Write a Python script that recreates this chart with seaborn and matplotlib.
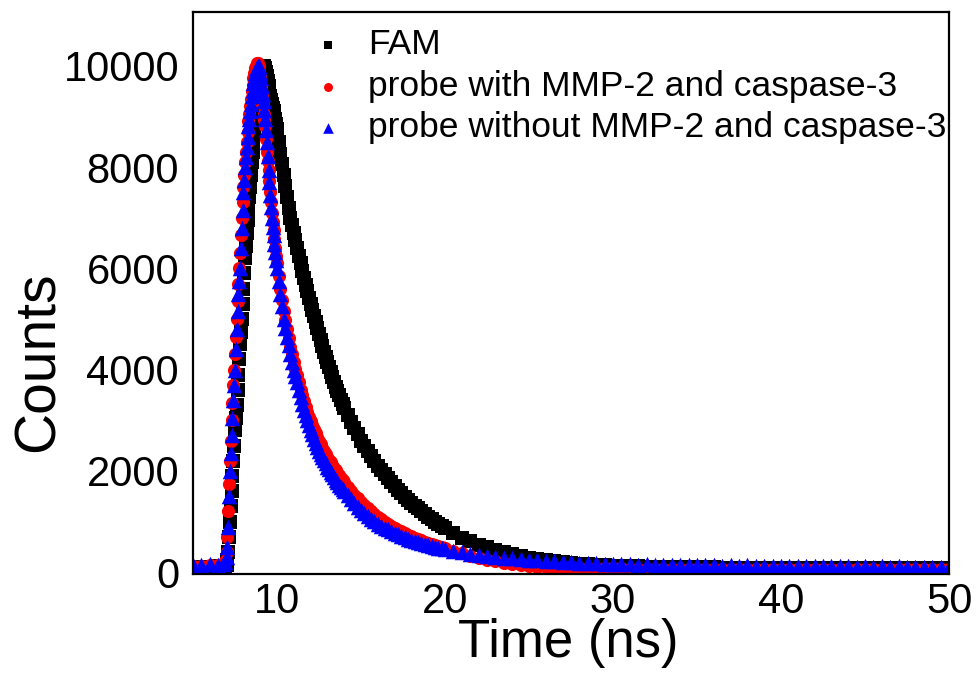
import matplotlib
matplotlib.use("Agg")
import matplotlib.pyplot as plt
from matplotlib.ticker import MultipleLocator
import pandas as pd
import seaborn as sns

# time channels (ns), shared by all three decays
time_ns = [5.0, 5.5, 6.0, 6.5, 6.8, 6.9,
           7.0, 7.05, 7.1, 7.15, 7.2, 7.25, 7.3, 7.35, 7.4, 7.45,
           7.5, 7.55, 7.6, 7.65, 7.7, 7.75, 7.8, 7.85, 7.9, 7.95,
           8.0, 8.05, 8.1, 8.15, 8.2, 8.25, 8.3, 8.35, 8.4, 8.45,
           8.5, 8.55, 8.6, 8.65, 8.7, 8.75, 8.8, 8.85, 8.9, 8.95,
           9.0, 9.05, 9.1, 9.15, 9.2, 9.25, 9.3, 9.35, 9.4, 9.45,
           9.5, 9.55, 9.6, 9.65, 9.7, 9.75, 9.8, 9.85, 9.9, 9.95,
           10.0, 10.1, 10.2, 10.3, 10.4, 10.5, 10.6, 10.7, 10.8, 10.9,
           11.0, 11.1, 11.2, 11.3, 11.4, 11.5, 11.6, 11.7, 11.8, 11.9,
           12.0, 12.1, 12.2, 12.3, 12.4, 12.5, 12.6, 12.7, 12.8, 12.9,
           13.0, 13.1, 13.2, 13.3, 13.4, 13.5, 13.6, 13.7, 13.8, 13.9,
           14.0, 14.2, 14.4, 14.6, 14.8, 15.0, 15.2, 15.4, 15.6, 15.8,
           16.0, 16.2, 16.4, 16.6, 16.8, 17.0, 17.2, 17.4, 17.6, 17.8,
           18.0, 18.2, 18.4, 18.6, 18.8, 19.0, 19.2, 19.4, 19.6, 19.8,
           20.0, 20.5, 21.0, 21.5, 22.0, 22.5, 23.0, 23.5, 24.0, 24.5,
           25.0, 25.5, 26.0, 26.5, 27.0, 27.5, 28.0, 28.5, 29.0, 29.5,
           30.0, 30.5, 31.0, 31.5, 32.0, 32.5, 33.0, 33.5, 34.0, 34.5,
           35.0, 35.5, 36.0, 36.5, 37.0, 37.5, 38.0, 38.5, 39.0, 39.5,
           40.0, 40.5, 41.0, 41.5, 42.0, 42.5, 43.0, 43.5, 44.0, 44.5,
           45.0, 45.5, 46.0, 46.5, 47.0, 47.5, 48.0, 48.5, 49.0, 49.5,
           50.0]

fam = [100, 110, 100, 120, 120, 130,
       150, 250, 400, 700, 1000, 1300, 1600, 1900, 2200, 2500,
       2800, 3050, 3300, 3600, 3900, 4200, 4500, 4750, 5000, 5300,
       5600, 5900, 6200, 6450, 6700, 6950, 7200, 7400, 7600, 7850,
       8100, 8300, 8500, 8700, 8900, 9050, 9200, 9350, 9500, 9630,
       9750, 9830, 9900, 9960, 10000, 9990, 9950, 9880, 9800, 9700,
       9600, 9500, 9400, 9320, 9250, 9170, 9100, 9020, 8950, 8850,
       8750, 8500, 8250, 8050, 7850, 7620, 7400, 7200, 7000, 6850,
       6700, 6550, 6400, 6250, 6100, 5950, 5800, 5680, 5550, 5420,
       5300, 5180, 5060, 4940, 4820, 4700, 4580, 4460, 4350, 4250,
       4150, 4050, 3950, 3850, 3750, 3650, 3570, 3490, 3410, 3330,
       3250, 3110, 2970, 2840, 2720, 2600, 2500, 2390, 2290, 2190,
       2100, 2020, 1940, 1860, 1780, 1700, 1630, 1560, 1490, 1430,
       1370, 1315, 1260, 1205, 1150, 1100, 1050, 1000, 955, 915,
       875, 780, 680, 610, 545, 490, 440, 395, 355, 320,
       290, 262, 240, 218, 200, 185, 170, 158, 148, 138,
       130, 124, 118, 114, 110, 106, 104, 102, 100, 98,
       96, 95, 94, 92, 92, 90, 90, 88, 88, 87,
       86, 86, 85, 84, 84, 83, 83, 82, 82, 81,
       81, 80, 80, 80, 79, 79, 78, 78, 78, 77,
       77]

probe_with = [120, 130, 140, 150, 160, 220,
              400, 700, 1200, 1750, 2200, 2600, 3000, 3350, 3700, 4000,
              4300, 4650, 5000, 5350, 5700, 6000, 6300, 6650, 7000, 7300,
              7600, 7850, 8100, 8300, 8500, 8700, 8900, 9050, 9200, 9350,
              9500, 9620, 9750, 9850, 9950, 10000, 10050, 10050, 10000, 9900,
              9800, 9600, 9400, 9220, 9050, 8930, 8800, 8550, 8300, 8120,
              7950, 7720, 7500, 7300, 7100, 6920, 6750, 6570, 6400, 6250,
              6100, 5850, 5600, 5370, 5150, 4970, 4800, 4620, 4450, 4300,
              4150, 4020, 3900, 3750, 3600, 3490, 3380, 3270, 3170, 3070,
              2980, 2900, 2820, 2740, 2670, 2600, 2530, 2460, 2400, 2340,
              2280, 2220, 2170, 2110, 2060, 2010, 1960, 1910, 1870, 1820,
              1780, 1690, 1610, 1530, 1460, 1390, 1325, 1265, 1205, 1150,
              1095, 1045, 1000, 955, 915, 875, 840, 805, 770, 740,
              710, 680, 655, 630, 605, 580, 558, 536, 515, 495,
              475, 420, 375, 330, 290, 250, 215, 185, 160, 140,
              125, 112, 100, 92, 86, 82, 80, 78, 76, 75,
              75, 74, 73, 72, 72, 71, 70, 70, 69, 69,
              68, 68, 67, 67, 66, 66, 66, 65, 65, 65,
              64, 64, 64, 63, 63, 63, 62, 62, 62, 62,
              61, 61, 61, 61, 60, 60, 60, 60, 60, 60,
              60]

probe_without = [150, 140, 160, 150, 170, 200,
                 300, 500, 900, 1500, 2000, 2350, 2700, 3050, 3400, 3700,
                 4000, 4400, 4800, 5150, 5500, 5750, 6000, 6400, 6800, 7150,
                 7500, 7750, 8000, 8200, 8400, 8600, 8800, 8950, 9100, 9250,
                 9400, 9530, 9650, 9750, 9850, 9920, 9980, 10000, 10000, 9950,
                 9850, 9750, 9600, 9450, 9300, 9130, 8950, 8730, 8500, 8220,
                 7950, 7700, 7450, 7220, 7000, 6820, 6650, 6480, 6320, 6160,
                 6000, 5750, 5500, 5250, 5000, 4820, 4650, 4480, 4300, 4150,
                 4000, 3870, 3750, 3600, 3450, 3320, 3200, 3100, 3000, 2900,
                 2800, 2720, 2640, 2560, 2480, 2400, 2340, 2280, 2220, 2150,
                 2080, 2030, 1980, 1930, 1880, 1830, 1780, 1730, 1680, 1640,
                 1600, 1520, 1440, 1365, 1295, 1225, 1165, 1110, 1055, 1005,
                 960, 920, 880, 845, 810, 780, 750, 720, 690, 665,
                 640, 615, 590, 570, 550, 530, 515, 500, 485, 470,
                 455, 420, 390, 365, 345, 325, 305, 290, 275, 262,
                 250, 240, 228, 218, 205, 198, 190, 182, 176, 170,
                 165, 160, 158, 150, 154, 146, 148, 141, 145, 138,
                 140, 133, 137, 131, 135, 127, 133, 126, 129, 125,
                 128, 121, 126, 119, 124, 117, 123, 116, 120, 113,
                 118, 111, 117, 110, 114, 107, 112, 106, 111, 104,
                 108]

labels = ["FAM", "probe with MMP-2 and caspase-3", "probe without MMP-2 and caspase-3"]
series = [fam, probe_with, probe_without]
colors = ["black", "red", "blue"]
markers = ["s", "o", "^"]
sizes = [90, 90, 125]

sns.set_style("white")
plt.rcParams["font.family"] = ["Liberation Sans", "DejaVu Sans"]
plt.rcParams["text.color"] = "black"
plt.rcParams["axes.labelcolor"] = "black"

fig = plt.figure(figsize=(9.79, 6.78), dpi=100)
ax = fig.add_axes([193 / 979, 1 - 573.5 / 678, 756 / 979, 561.5 / 678])

for lab, vals, c, m, s in zip(labels, series, colors, markers, sizes):
    d = pd.DataFrame({"Time": time_ns, "Counts": vals})
    sns.scatterplot(data=d, x="Time", y="Counts", marker=m, color=c, s=s,
                    linewidth=0, label=lab, ax=ax)

ax.set_xlim(5, 50)
ax.set_ylim(-25, 11060)
ax.xaxis.set_major_locator(MultipleLocator(10))
ax.xaxis.set_minor_locator(MultipleLocator(5))
ax.yaxis.set_major_locator(MultipleLocator(2000))
ax.yaxis.set_minor_locator(MultipleLocator(1000))
ax.tick_params(which="both", direction="in", top=False, right=False,
               width=1.5, labelsize=30, colors="black")
ax.tick_params(which="major", length=9)
ax.tick_params(which="minor", length=5)
ax.tick_params(axis="x", pad=6)
ax.tick_params(axis="y", pad=10)
for sp in ax.spines.values():
    sp.set_linewidth(1.6)
    sp.set_color("black")

ax.set_xlabel("Time (ns)", fontsize=38)
ax.set_ylabel("Counts", fontsize=41)
ax.xaxis.set_label_coords(0.496, -0.079)
ax.yaxis.set_label_coords(-0.168, 0.377)

ax.legend(loc="upper left", bbox_to_anchor=(314 / 979, 0.958),
          bbox_transform=fig.transFigure, frameon=False, fontsize=25.5,
          markerscale=0.68, handlelength=0.8, handletextpad=0.72,
          labelspacing=0.24, borderpad=0, borderaxespad=0)

fig.savefig("out.png", dpi=100)
